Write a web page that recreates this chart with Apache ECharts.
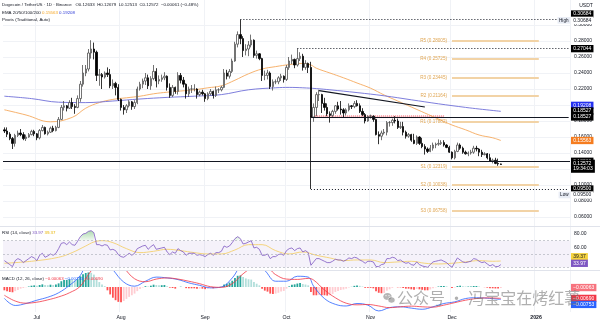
<!DOCTYPE html>
<html>
<head>
<meta charset="utf-8">
<script src="https://cdn.jsdelivr.net/npm/echarts@6/dist/echarts.min.js"></script>
<style>
html,body{margin:0;padding:0;background:#ffffff;}
#chart{width:600px;height:323px;}
</style>
</head>
<body>
<div id="chart"></div>
<script>
// ================= DATA =================
const startDay = '2025-06-19';
const totalDays = 209;
const monthTickDates = ['2025-07-01','2025-08-01','2025-09-01','2025-10-01','2025-11-01','2025-12-01','2026-01-01'];
const monthTickLabels = ['Jul','Aug','Sep','Oct','Nov','Dec','2026'];
const priceTicks = [0.06,0.08,0.10,0.12,0.14,0.16,0.18,0.20,0.22,0.24,0.26,0.28,0.30];
const rsiTicks = [60,80];

const open = [
.1690,.1675,.1635,.1580,.1520,.1620,.1650,.1630,.1580,.1600,.1630,.1670,
.1640,.1590,.1680,.1720,.1640,.1660,.1710,.1680,.1720,.1820,.1970,.1990,.1960,.2030,.1980,.1970,.2080,.2260,.2400,.2450,.2650,.2700,.2660,.2370,.2380,.2350,.2400,.2380,.2240,.2270,.2220,
.2070,.1970,.1940,.1990,.2040,.1980,.2030,.2200,.2260,.2300,.2340,.2240,.2330,.2420,.2300,.2320,.2340,.2360,.2220,.2120,.2220,.2170,.2370,.2310,.2260,.2140,.2200,.2200,.2200,.2130,.2160,
.2140,.2080,.2140,.2170,.2120,.2190,.2190,.2220,.2400,.2360,.2420,.2550,.2760,.2880,.2830,.2680,.2700,.2750,.2810,.2620,.2640,.2580,.2370,.2370,.2400,.2230,.2290,.2290,.2340,.2360,
.2320,.2470,.2550,.2570,.2500,.2580,.2610,.2470,.2520,.2470,.1850,.1970,.2130,.2130,.2020,.1970,.1890,.1870,.1920,.1990,.1950,.1940,.1900,.1940,.1990,.1980,.2020,.1990,.1920,.1880,.1800,
.1860,.1860,.1820,.1630,.1610,.1650,.1660,.1780,.1780,.1810,.1800,.1720,.1730,.1660,.1610,.1630,.1560,.1520,.1600,.1520,.1480,.1450,.1420,.1460,.1500,.1510,.1520,.1530,.1500,.1470,
.1410,.1340,.1420,.1500,.1460,.1410,.1390,.1400,.1410,.1460,.1450,.1410,.1380,.1390,.1340,.1300,.1310,.1270,.12633];
const high = [
.1720,.1720,.1660,.1600,.1640,.1680,.1700,.1660,.1630,.1650,.1690,.1690,
.1650,.1700,.1750,.1730,.1680,.1730,.1740,.1740,.1850,.2000,.2050,.2000,.2060,.2090,.2010,.2120,.2300,.2500,.2500,.2700,.2810,.2780,.2680,.2450,.2400,.2420,.2470,.2450,.2320,.2290,.2260,
.2080,.2000,.2010,.2060,.2050,.2060,.2230,.2290,.2330,.2400,.2380,.2360,.2500,.2460,.2370,.2380,.2410,.2370,.2270,.2250,.2230,.2410,.2400,.2350,.2270,.2230,.2250,.2260,.2210,.2180,.2190,
.2150,.2160,.2200,.2180,.2230,.2210,.2240,.2450,.2440,.2450,.2580,.2790,.2920,.30684,.2860,.2760,.2800,.2880,.2820,.2680,.2650,.2590,.2430,.2440,.2420,.2320,.2320,.2360,.2390,.2370,
.2500,.2600,.2630,.2580,.27044,.2660,.2640,.2560,.2530,.2540,.2020,.2160,.2190,.2140,.2090,.2020,.1920,.1940,.2000,.2040,.2050,.1960,.1960,.2020,.2000,.2050,.2060,.2020,.1960,.1900,.1870,
.1880,.1870,.1830,.1670,.1680,.1700,.1800,.1800,.1830,.1860,.1830,.1790,.1790,.1680,.1650,.1640,.1640,.1620,.1610,.1590,.1510,.1470,.1500,.1530,.1530,.1570,.1560,.1560,.1510,.1490,
.1420,.1440,.1530,.1520,.1480,.1430,.1420,.1440,.1490,.1490,.1460,.1440,.1410,.1400,.1390,.1330,.1340,.1330,.12679];
const low = [
.1650,.1600,.1560,.1450,.1480,.1600,.1610,.1560,.1550,.1590,.1620,.1610,
.1560,.1570,.1670,.1630,.1620,.1650,.1660,.1670,.1710,.1810,.1930,.1920,.1950,.1950,.1890,.1960,.2040,.2230,.2360,.2420,.2580,.2570,.2300,.2240,.2200,.2330,.2350,.2210,.2200,.2120,.2050,
.1930,.1880,.1900,.1970,.1940,.1950,.2010,.2180,.2210,.2250,.2200,.2190,.2310,.2220,.2260,.2290,.2310,.2180,.2090,.2100,.2140,.2130,.2270,.2220,.2080,.2100,.2150,.2170,.2080,.2110,.2120,
.2040,.2060,.2120,.2080,.2100,.2150,.2170,.2210,.2320,.2330,.2400,.2540,.2720,.2760,.2600,.2620,.2610,.2720,.2590,.2580,.2560,.2300,.2310,.2320,.2200,.2180,.2260,.2260,.2300,.2280,
.2300,.2440,.2510,.2460,.2480,.2550,.2430,.2440,.2400,.0950,.1790,.1860,.2050,.1900,.1930,.1860,.1780,.1850,.1890,.1930,.1880,.1850,.1870,.1920,.1950,.1960,.1980,.1900,.1860,.1770,.1790,
.1830,.1790,.1620,.1510,.1560,.1630,.1620,.1730,.1740,.1770,.1700,.1700,.1620,.1580,.1590,.1540,.1510,.1500,.1500,.1460,.1380,.1400,.1410,.1430,.1460,.1490,.1500,.1480,.1460,.1400,
.1320,.1320,.1410,.1440,.1390,.1380,.1360,.1380,.1390,.1420,.1360,.1350,.1370,.1320,.1290,.1270,.1260,.1240,.12513];
const close = [
.1675,.1635,.1580,.1520,.1620,.1650,.1630,.1580,.1600,.1630,.1670,.1640,
.1590,.1680,.1720,.1640,.1660,.1710,.1680,.1720,.1820,.1970,.1990,.1960,.2030,.1980,.1970,.2080,.2260,.2400,.2450,.2650,.2700,.2660,.2370,.2380,.2350,.2400,.2380,.2240,.2270,.2220,.2070,
.1970,.1940,.1990,.2040,.1980,.2030,.2200,.2260,.2300,.2340,.2240,.2330,.2420,.2300,.2320,.2340,.2360,.2220,.2120,.2220,.2170,.2370,.2310,.2260,.2140,.2200,.2200,.2200,.2130,.2160,.2140,
.2080,.2140,.2170,.2120,.2190,.2190,.2220,.2400,.2360,.2420,.2550,.2760,.2880,.2830,.2680,.2700,.2750,.2810,.2620,.2640,.2580,.2370,.2370,.2400,.2230,.2290,.2290,.2340,.2360,.2320,
.2470,.2550,.2570,.2500,.2580,.2610,.2470,.2520,.2470,.1850,.1970,.2130,.2130,.2020,.1970,.1890,.1870,.1920,.1990,.1950,.1940,.1900,.1940,.1990,.1980,.2020,.1990,.1920,.1880,.1800,.1860,
.1860,.1820,.1630,.1610,.1650,.1660,.1780,.1780,.1810,.1800,.1720,.1730,.1660,.1610,.1630,.1560,.1520,.1600,.1520,.1480,.1450,.1420,.1460,.1500,.1510,.1520,.1530,.1500,.1470,.1410,
.1340,.1420,.1500,.1460,.1410,.1390,.1400,.1410,.1460,.1450,.1410,.1380,.1390,.1340,.1300,.1310,.1270,.1263,.12572];

// EMA lines (day index, value)
const ema50Idx = [0,8,17,25,30,35,40,45,50,55,60,65,70,75,80,85,90,95,100,105,110,113,115,120,125,130,135,140,145,150,155,160,165,170,175,180,183];
const ema50Val = [0.194,0.1875,0.179,0.1845,0.196,0.203,0.207,0.209,0.211,0.214,0.216,0.2175,0.219,0.2215,0.224,0.231,0.239,0.245,0.248,0.2505,0.252,0.2500,0.246,0.240,0.234,0.2275,0.221,0.2125,0.205,0.1975,0.190,0.1825,0.175,0.169,0.1625,0.159,0.15563];
const ema200Idx = [0,10,20,30,40,50,60,70,80,90,100,105,110,115,120,130,140,150,160,170,175,183];
const ema200Val = [0.211,0.208,0.2035,0.203,0.205,0.2075,0.2095,0.211,0.213,0.219,0.2215,0.222,0.2215,0.2205,0.219,0.2155,0.2115,0.2065,0.2015,0.197,0.195,0.19208];

// RSI (14) daily
const rsi = [
40,37,34,31,40,43,41,37,40,43,46,44,
40,48,51,45,47,50,48,51,58,66,67,64,68,64,63,69,76,80,81,84,85,82,64,64,62,64,63,56,57,55,49,
46,45,48,51,48,51,58,60,62,63,57,61,64,57,58,59,60,53,49,53,51,58,55,53,48,51,51,51,48,49,48,
46,49,51,48,52,52,54,62,60,62,67,73,76,73,65,66,68,70,59,60,57,48,48,50,43,46,46,49,50,48,
55,58,59,55,58,59,53,55,52,33,38,43,43,41,39,37,37,39,42,41,41,39,41,44,43,45,44,41,39,36,39,
39,38,31,31,34,35,43,43,45,44,40,41,38,36,37,34,33,38,34,32,31,30,34,38,39,40,41,39,37,33,
30,37,44,41,38,37,38,39,43,42,39,37,38,35,32,34,31,31,33.97];
const rsiMaIdx = [0,10,20,25,30,33,36,40,45,50,55,60,65,70,75,80,85,90,95,100,105,110,115,120,125,130,135,140,145,150,155,160,165,170,175,180,183];
const rsiMaVal = [36,39,45,52,62,68,70,67,58,52,54,57,55,52,50,50,56,64,64,55,50,53,48,44,40,41,41,37,38,39,36,35,36,38,40,39,39.37];

// MACD (12,26,9)
const macdIdx = [0,4,8,12,16,20,24,28,32,36,40,44,48,52,56,60,64,68,72,76,80,84,88,92,96,100,104,108,112,114,118,122,126,130,134,138,142,146,150,154,158,162,166,170,174,178,183];
const macdVal = [-0.0069,-0.0112,-0.0100,-0.0080,-0.0062,-0.0035,0.0010,0.0070,0.0185,0.0180,0.0105,0.0030,0.0005,0.0035,0.0060,0.0055,0.0045,0.0025,0.0010,-0.0005,0.0000,0.0055,0.0140,0.0150,0.0100,0.0035,0.0035,0.0065,0.0060,0.0005,-0.0070,-0.0105,-0.0115,-0.0100,-0.0110,-0.0145,-0.0125,-0.0120,-0.0128,-0.0135,-0.0120,-0.0100,-0.0090,-0.0070,-0.0065,-0.0068,-0.00753];
const signalVal = [-0.0050,-0.0085,-0.0098,-0.0092,-0.0078,-0.0060,-0.0035,0.0005,0.0098,0.0160,0.0168,0.0115,0.0050,0.0032,0.0048,0.0055,0.0048,0.0035,0.0020,0.0002,-0.0002,0.0020,0.0080,0.0120,0.0125,0.0075,0.0048,0.0046,0.0052,0.0042,-0.0018,-0.0065,-0.0098,-0.0108,-0.0106,-0.0115,-0.0125,-0.0120,-0.0116,-0.0120,-0.0122,-0.0110,-0.0095,-0.0080,-0.0070,-0.0066,-0.00690];
const hist = [
-0.0020,-0.0025,-0.0030,-0.0032,-0.0025,-0.0018,-0.0010,-0.0006,-0.0002,0.0003,0.0008,0.0010,
0.0008,0.0012,0.0016,0.0012,0.0011,0.0014,0.0012,0.0015,0.0022,0.0035,0.0042,0.0043,0.0047,0.0044,0.0040,0.0047,0.0065,0.0078,0.0085,0.0088,0.0086,0.0075,0.0050,0.0030,0.0015,0.0005,-0.0020,-0.0045,-0.0065,-0.0080,-0.0090,
-0.0092,-0.0085,-0.0072,-0.0060,-0.0050,-0.0040,-0.0025,-0.0012,-0.0003,0.0005,0.0003,0.0008,0.0014,0.0012,0.0011,0.0011,0.0012,0.0005,-0.0004,-0.0006,-0.0010,0.0000,0.0002,0.0000,-0.0007,-0.0008,-0.0008,-0.0008,-0.0011,-0.0010,-0.0010,
-0.0013,-0.0011,-0.0008,-0.0008,-0.0004,-0.0002,0.0001,0.0015,0.0020,0.0027,0.0038,0.0055,0.0068,0.0070,0.0060,0.0052,0.0047,0.0045,0.0030,0.0020,0.0010,-0.0010,-0.0022,-0.0028,-0.0040,-0.0042,-0.0040,-0.0035,-0.0028,-0.0024,
-0.0010,0.0004,0.0014,0.0016,0.0021,0.0025,0.0018,0.0015,0.0010,-0.0030,-0.0050,-0.0050,-0.0048,-0.0050,-0.0050,-0.0052,-0.0050,-0.0042,-0.0030,-0.0024,-0.0018,-0.0015,-0.0010,-0.0003,0.0001,0.0007,0.0009,0.0007,0.0003,-0.0005,-0.0005,
-0.0005,-0.0008,-0.0025,-0.0035,-0.0038,-0.0036,-0.0022,-0.0014,-0.0005,0.0000,-0.0002,-0.0002,-0.0006,-0.0010,-0.0010,-0.0014,-0.0017,-0.0012,-0.0014,-0.0017,-0.0020,-0.0020,-0.0015,-0.0008,-0.0002,0.0003,0.0006,0.0006,0.0004,0.0000,
-0.0006,-0.0003,0.0006,0.0008,0.0005,0.0003,0.0003,0.0003,0.0006,0.0006,0.0003,0.0000,-0.0001,-0.0004,-0.0008,-0.0008,-0.0009,-0.0009,-0.00063];

// drawn levels
const supportLevel = 0.12966;
const rangeLevel = 0.18527, rangeStartIdx = 113;
const highLevel = 0.30684, highIdx = 87;
const peakLevel = 0.27044, peakIdx = 108;
const lowLevel = 0.09500, lowIdx = 113;
const trendFrom = [116, 0.2179], trendTo = [155, 0.1975];
const bandRange = [0.1843, 0.1863], bandIdx = [113, 162];
const pivotNames = ['R5','R4','R3','R2','R1','S1','S2','S3'];
const pivotVals = [0.28005,0.25725,0.23445,0.21164,0.17882,0.12319,0.10038,0.06758];
const pivotIdx = [165, 197];
const lastPrice = 0.12572, countdown = '19:34:03';
const emaLast = [0.15563, 0.19208];
const rsiLast = [33.97, 39.37];
const macdLast = [-0.00063, -0.00753, -0.00690];

// ================= CHART =================
const FONT = '"Liberation Sans", Arial, sans-serif';
const categories = [];
const t0 = Date.parse(startDay + 'T00:00:00Z');
for (let i = 0; i < totalDays; i++) categories.push(new Date(t0 + i * 86400000).toISOString().slice(0, 10));
const lastCat = categories[totalDays - 1];
const tickMap = {};
monthTickDates.forEach((d, i) => tickMap[d] = monthTickLabels[i]);
const isTick = (i, v) => tickMap[v] !== undefined;
const pairs = (idx, vals) => idx.map((k, j) => [categories[k], vals[j]]);

const candleData = open.map((o, i) => [o, close[i], low[i], high[i]]);
const histData = hist.map((v, i) => {
  const p = i > 0 ? hist[i - 1] : v;
  let c;
  if (v >= 0) c = v >= p ? '#26a69a' : '#b2dfdb';
  else c = v <= p ? '#ff5252' : '#ffcdd2';
  return { value: v, itemStyle: { color: c } };
});
const obData = rsi.map(v => (v > 70 ? v : null));

const blackLine = { color: '#131722', width: 1, type: 'solid' };
const dotLine = { color: '#131722', width: 1, type: [1, 2] };
const pivotLines = pivotVals.map((v, k) => [
  { coord: [categories[pivotIdx[0]], v], lineStyle: { color: '#f2d3a6', width: 2, type: 'solid' },
    label: { show: true, position: 'start', formatter: pivotNames[k] + ' (' + v.toFixed(5) + ')', color: '#e0a653', fontSize: 4.6, fontFamily: FONT, distance: 5 } },
  { coord: [categories[pivotIdx[1]], v] }
]);

const axisX = g => ({
  type: 'category', gridIndex: g, data: categories, boundaryGap: true,
  axisLine: { show: false }, axisTick: { show: false },
  axisLabel: { show: g === 2, interval: isTick, margin: 3, color: '#131722', fontSize: 5.2, fontFamily: FONT,
    formatter: v => (tickMap[v] === '2026' ? '{b|2026}' : tickMap[v] || ''),
    rich: { b: { fontWeight: 'bold', fontSize: 5.2, fontFamily: FONT, color: '#131722' } } },
  splitLine: { show: true, interval: isTick, lineStyle: { color: '#f0f2f6', width: 1 } }
});

const option = {
  animation: false,
  backgroundColor: '#ffffff',
  grid: [
    { left: 3, right: 30, top: 0, height: 226 },
    { left: 3, right: 30, top: 227, height: 43 },
    { left: 3, right: 30, top: 271, height: 41 }
  ],
  xAxis: [axisX(0), axisX(1), axisX(2)],
  yAxis: [
    { type: 'value', gridIndex: 0, position: 'right', min: 0.04875, max: 0.33125,
      axisLine: { show: false }, axisTick: { show: false, customValues: priceTicks },
      axisLabel: { customValues: priceTicks, formatter: v => v.toFixed(5), color: '#131722', fontSize: 5, fontFamily: FONT, margin: 4 },
      splitLine: { show: true, lineStyle: { color: '#f0f2f6', width: 1 } } },
    { type: 'value', gridIndex: 1, position: 'right', min: 25.87, max: 90.53,
      axisLine: { show: false }, axisTick: { show: false, customValues: rsiTicks },
      axisLabel: { customValues: rsiTicks, formatter: v => v.toFixed(2), color: '#131722', fontSize: 5, fontFamily: FONT, margin: 4 },
      splitLine: { show: false } },
    { type: 'value', gridIndex: 2, position: 'right', min: -0.01515, max: 0.0097,
      axisLine: { show: false }, axisTick: { show: false }, axisLabel: { show: false }, splitLine: { show: false } }
  ],
  series: [
    { type: 'candlestick', xAxisIndex: 0, yAxisIndex: 0, data: candleData, barWidth: 1.9,
      itemStyle: { color: '#ffffff', color0: '#000000', borderColor: '#505050', borderColor0: '#000000', borderWidth: 0.8 },
      markLine: { silent: true, symbol: ['none', 'none'], animation: false, label: { show: false },
        data: [
          { yAxis: supportLevel, lineStyle: blackLine },
          [{ coord: [categories[rangeStartIdx], rangeLevel], lineStyle: blackLine }, { coord: [lastCat, rangeLevel] }],
          [{ coord: [categories[highIdx], highLevel], lineStyle: dotLine }, { coord: [lastCat, highLevel] }],
          [{ coord: [categories[peakIdx], peakLevel], lineStyle: dotLine }, { coord: [lastCat, peakLevel] }],
          [{ coord: [categories[lowIdx], lowLevel], lineStyle: dotLine }, { coord: [lastCat, lowLevel] }],
          [{ coord: [categories[trendFrom[0]], trendFrom[1]], lineStyle: { color: '#131722', width: 1.2, type: 'solid' } }, { coord: [categories[trendTo[0]], trendTo[1]] }]
        ].concat(pivotLines) },
      markArea: { silent: true,
        itemStyle: { color: 'rgba(242,54,69,0.18)', borderColor: '#f23645', borderWidth: 0.8, borderType: [1, 1] },
        data: [[{ coord: [categories[bandIdx[0]], bandRange[1]] }, { coord: [categories[bandIdx[1]], bandRange[0]] }]] } },
    { type: 'line', xAxisIndex: 0, yAxisIndex: 0, data: pairs(ema50Idx, ema50Val), smooth: 0.4, symbol: 'none',
      lineStyle: { color: '#f5a95e', width: 0.9 }, z: 1 },
    { type: 'line', xAxisIndex: 0, yAxisIndex: 0, data: pairs(ema200Idx, ema200Val), smooth: 0.4, symbol: 'none',
      lineStyle: { color: '#6f6fd8', width: 0.9 }, z: 1 },
    { type: 'line', xAxisIndex: 1, yAxisIndex: 1, data: obData, symbol: 'none', lineStyle: { width: 0 },
      areaStyle: { origin: 70, color: new echarts.graphic.LinearGradient(0, 0, 0, 1, [{ offset: 0, color: 'rgba(76,175,80,0.65)' }, { offset: 1, color: 'rgba(76,175,80,0.1)' }]) } },
    { type: 'line', xAxisIndex: 1, yAxisIndex: 1, data: pairs(rsiMaIdx, rsiMaVal), smooth: 0.4, symbol: 'none',
      lineStyle: { color: '#f4d06f', width: 0.9 } },
    { type: 'line', xAxisIndex: 1, yAxisIndex: 1, data: rsi, symbol: 'none', lineStyle: { color: '#7e57c2', width: 0.8 },
      markArea: { silent: true, itemStyle: { color: 'rgba(126,87,194,0.08)' }, data: [[{ yAxis: 30 }, { yAxis: 70 }]] },
      markLine: { silent: true, symbol: ['none', 'none'], label: { show: false },
        lineStyle: { color: '#b2b5be', width: 0.7, type: [2, 2] }, data: [{ yAxis: 70 }, { yAxis: 50 }, { yAxis: 30 }] } },
    { type: 'bar', xAxisIndex: 2, yAxisIndex: 2, data: histData, barWidth: 1.8 },
    { type: 'line', xAxisIndex: 2, yAxisIndex: 2, data: pairs(macdIdx, macdVal), smooth: 0.4, symbol: 'none',
      lineStyle: { color: '#2962ff', width: 0.8 } },
    { type: 'line', xAxisIndex: 2, yAxisIndex: 2, data: pairs(macdIdx, signalVal), smooth: 0.4, symbol: 'none',
      lineStyle: { color: '#f23645', width: 0.8 } }
  ]
};

const chart = echarts.init(document.getElementById('chart'), null, { renderer: 'canvas' });
chart.setOption(option);

// ---- overlay texts (positions from the axes) ----
const py = (ax, v) => chart.convertToPixel({ yAxisIndex: ax }, v);
const tag = (ax, v, text, bg, fg, dy) => ({
  type: 'text', z: 100, x: 571, y: py(ax, v) + dy,
  style: { text: text, fill: fg, backgroundColor: bg, padding: [0.9, 2.2, 0.6, 2.2], font: '5px ' + FONT, verticalAlign: 'middle', align: 'left', lineHeight: 5.8 }
});
const hdr = (y, text, rich) => ({ type: 'text', z: 100, x: 2, y: y, style: { text: text, rich: rich, font: '4.4px ' + FONT, fill: '#131722', verticalAlign: 'middle' } });
const R = c => ({ fill: c, font: '4.4px ' + FONT });

const graphics = [
  { type: 'line', z: 90, shape: { x1: 0, y1: 226.5, x2: 600, y2: 226.5 }, style: { stroke: '#e0e3eb', lineWidth: 1 } },
  { type: 'line', z: 90, shape: { x1: 0, y1: 270.5, x2: 600, y2: 270.5 }, style: { stroke: '#e0e3eb', lineWidth: 1 } },
  hdr(4.5, '{a|Dogecoin / TetherUS · 1D · Binance   O0.12633  H0.12679  L0.12513  C0.12572  −0.00061 (−0.48%)}', { a: R('#131722') }),
  hdr(12.3, '{a|EMA 20/50/100/200 }{o|' + emaLast[0].toFixed(5) + '}{a| }{b|' + emaLast[1].toFixed(5) + '}', { a: R('#131722'), o: R('#f5a623'), b: R('#2e3bd6') }),
  hdr(20, '{a|Pivots (Traditional, Auto)}', { a: R('#131722') }),
  hdr(232.5, '{a|RSI (14, close) }{p|' + rsiLast[0].toFixed(2) + '}{a| }{y|' + rsiLast[1].toFixed(2) + '}', { a: R('#131722'), p: R('#7e57c2'), y: R('#e8b400') }),
  hdr(278.5, '{a|MACD (12, 26, close) }{r|−' + Math.abs(macdLast[0]).toFixed(5) + '}{a| }{b|−' + Math.abs(macdLast[1]).toFixed(5) + '}{a| }{o|−' + Math.abs(macdLast[2]).toFixed(5) + '}',
      { a: R('#131722'), r: R('#f23645'), b: R('#2962ff'), o: R('#f23645') }),
  { type: 'text', z: 100, x: 586, y: 6, style: { text: 'USDT', font: '5px ' + FONT, fill: '#131722', align: 'center', verticalAlign: 'middle' } },
  // right price labels
  tag(0, highLevel, highLevel.toFixed(5), '#000000', '#ffffff', -5.5),
  tag(0, highLevel, highLevel.toFixed(5), '#ffffff', '#131722', 0.8),
  { type: 'text', z: 100, x: 570, y: py(0, highLevel) + 0.8, style: { text: 'High', font: '4.6px ' + FONT, fill: '#131722', backgroundColor: '#e9edf5', padding: [0.8, 1.5], align: 'right', verticalAlign: 'middle' } },
  tag(0, peakLevel, peakLevel.toFixed(5), '#000000', '#ffffff', 0),
  tag(0, emaLast[1], emaLast[1].toFixed(5), '#2330f0', '#ffffff', -6),
  tag(0, rangeLevel, rangeLevel.toFixed(5), '#000000', '#ffffff', -5.8),
  tag(0, rangeLevel, rangeLevel.toFixed(5), '#000000', '#ffffff', 0.2),
  tag(0, emaLast[0], emaLast[0].toFixed(5), '#f57c1f', '#ffffff', 0),
  tag(0, supportLevel, supportLevel.toFixed(5), '#000000', '#ffffff', 0),
  tag(0, lastPrice, lastPrice.toFixed(5) + '\n' + countdown, '#000000', '#ffffff', 1.8),
  tag(0, lowLevel, lowLevel.toFixed(5), '#000000', '#ffffff', 0),
  tag(0, lowLevel, lowLevel.toFixed(5), '#ffffff', '#131722', 6),
  { type: 'text', z: 100, x: 570, y: py(0, lowLevel) + 6, style: { text: 'Low', font: '4.6px ' + FONT, fill: '#131722', backgroundColor: '#e9edf5', padding: [0.8, 1.5], align: 'right', verticalAlign: 'middle' } },
  tag(1, rsiLast[1], rsiLast[1].toFixed(2), '#f5d33f', '#131722', -4.3),
  tag(1, rsiLast[0], rsiLast[0].toFixed(2), '#7e57c2', '#ffffff', -1.3),
  tag(2, macdLast[0], '−' + Math.abs(macdLast[0]).toFixed(5), '#f7737e', '#ffffff', -0.5),
  tag(2, macdLast[2], '−' + Math.abs(macdLast[2]).toFixed(5), '#f23645', '#ffffff', 0),
  tag(2, macdLast[1], '−' + Math.abs(macdLast[1]).toFixed(5), '#2962ff', '#ffffff', 5),
  // watermark
  { type: 'group', z: 120, x: 389, y: 298, children: [
    { type: 'ellipse', shape: { cx: -1.5, cy: -1.5, rx: 4.2, ry: 3.6 }, style: { fill: 'rgba(120,120,120,0.55)' } },
    { type: 'ellipse', shape: { cx: 2.5, cy: 2, rx: 3.6, ry: 3.1 }, style: { fill: 'rgba(120,120,120,0.55)', stroke: '#ffffff', lineWidth: 0.6 } },
    { type: 'circle', shape: { cx: -3, cy: -2.3, r: 0.6 }, style: { fill: '#fff' } },
    { type: 'circle', shape: { cx: 0, cy: -2.3, r: 0.6 }, style: { fill: '#fff' } }
  ] },
  { type: 'text', z: 120, x: 397, y: 298, style: { text: '公众号 · 冯宝宝在烤红薯', font: '16px "Noto Sans CJK SC", sans-serif', fill: 'rgba(110,110,110,0.55)', verticalAlign: 'middle', align: 'left' } }
];
chart.setOption({ graphic: graphics });
</script>
</body>
</html>
